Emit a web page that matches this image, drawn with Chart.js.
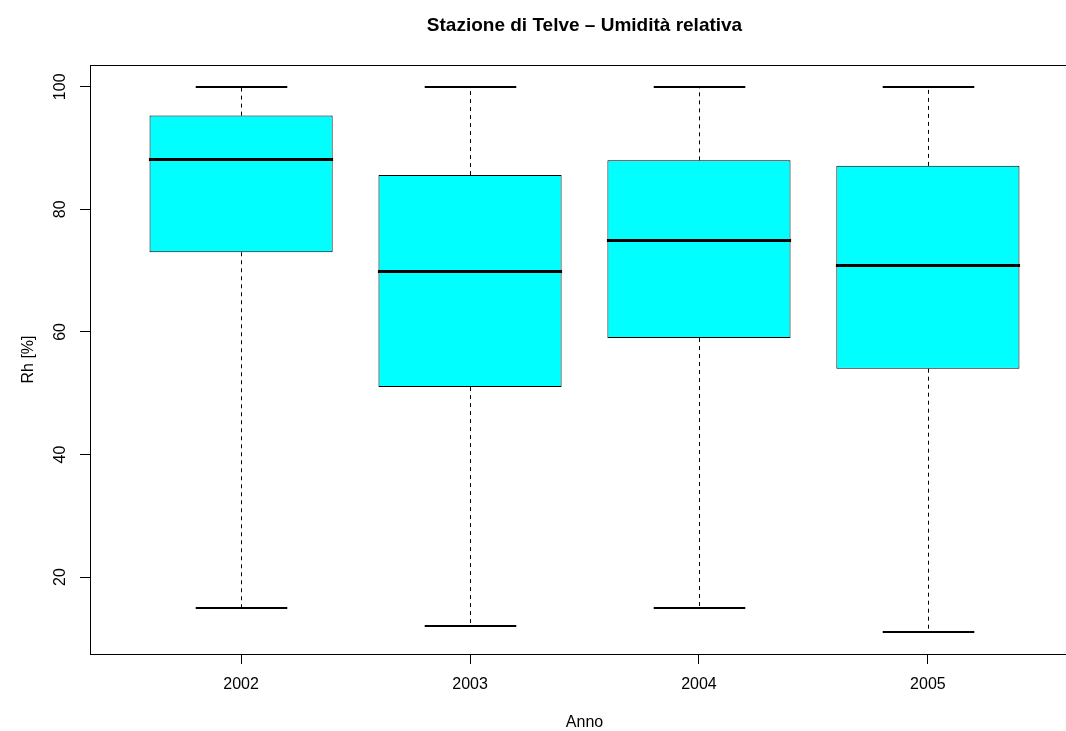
<!DOCTYPE html>
<html>
<head>
<meta charset="utf-8">
<script src="https://cdn.jsdelivr.net/npm/chart.js@4"></script>
<style>
  html, body { margin: 0; padding: 0; background: #fff; overflow: hidden; }
  #wrap { width: 1100px; height: 731px; }
</style>
</head>
<body>
<div id="wrap"><canvas id="boxChart" width="1100" height="731"></canvas></div>
<script>
// boxplot summary per year
const years = ['2002', '2003', '2004', '2005'];
const lower = [15, 12, 15, 11];
const q1 = [73, 51, 59, 54];
const median = [88.2, 70, 75, 71];
const q3 = [95.3, 85.6, 88, 87.1];
const upper = [100, 100, 100, 100];
const yTicks = [20, 40, 60, 80, 100];

// whiskers, staples, medians and the plot frame
const boxParts = {
    id: 'boxParts',
    afterDatasetsDraw(chart) {
        const { ctx, chartArea: a, scales: { x, y } } = chart;
        const bars = chart.getDatasetMeta(0).data;
        ctx.save();
        ctx.strokeStyle = '#000';
        years.forEach((yr, i) => {
            const cx = Math.round(x.getPixelForValue(i + 1)) + 0.5;
            const half = bars[i].width / 2;

            ctx.lineWidth = 1;
            ctx.setLineDash([4, 4]);
            ctx.beginPath();
            ctx.moveTo(cx, y.getPixelForValue(q3[i]));
            ctx.lineTo(cx, y.getPixelForValue(upper[i]));
            ctx.moveTo(cx, y.getPixelForValue(q1[i]));
            ctx.lineTo(cx, y.getPixelForValue(lower[i]));
            ctx.stroke();
            ctx.setLineDash([]);

            ctx.lineWidth = 2;
            ctx.beginPath();
            [upper[i], lower[i]].forEach(v => {
                const py = Math.round(y.getPixelForValue(v));
                ctx.moveTo(cx - half / 2, py);
                ctx.lineTo(cx + half / 2, py);
            });
            ctx.stroke();

            ctx.lineWidth = 3;
            ctx.beginPath();
            const my = Math.round(y.getPixelForValue(median[i])) + 0.5;
            ctx.moveTo(cx - half - 1, my);
            ctx.lineTo(cx + half, my);
            ctx.stroke();
        });
        ctx.lineWidth = 1;
        ctx.strokeRect(Math.round(a.left) + 0.5, Math.round(a.top) + 0.5,
            Math.round(a.width), Math.round(a.height));
        ctx.restore();
    }
};

Chart.defaults.font.family = '"Liberation Sans", Arial, Helvetica, sans-serif';
Chart.defaults.color = '#000';

const ctx = document.getElementById('boxChart').getContext('2d');
new Chart(ctx, {
    type: 'bar',
    data: {
        datasets: [{
            data: years.map((yr, i) => ({ x: i + 1, y: [q1[i], q3[i]] })),
            backgroundColor: '#00ffff',
            borderColor: '#000',
            borderWidth: 1,
            borderSkipped: false,
            barPercentage: 0.8,
            categoryPercentage: 1
        }]
    },
    options: {
        responsive: false,
        animation: false,
        layout: { padding: { left: 0, right: 21, top: 0, bottom: 0 } },
        plugins: {
            legend: { display: false },
            tooltip: { enabled: false },
            title: {
                display: true,
                text: 'Stazione di Telve \u2013 Umidità relativa',
                fullSize: false,
                color: '#000',
                font: { size: 19, weight: 'bold', lineHeight: 1.2 },
                padding: { top: 14, bottom: 28.2 }
            }
        },
        scales: {
            x: {
                type: 'linear',
                min: 0.34,
                max: 4.66,
                bounds: 'data',
                offset: false,
                afterBuildTicks: s => { s.ticks = years.map((yr, i) => ({ value: i + 1 })); },
                afterFit: s => { s.height = 77; },
                ticks: {
                    callback: v => years[v - 1],
                    font: { size: 16 },
                    padding: 11,
                    maxRotation: 0,
                    autoSkip: false
                },
                grid: { offset: false, drawOnChartArea: false, tickLength: 10, color: '#000' },
                border: { display: false },
                title: {
                    display: true,
                    text: 'Anno',
                    font: { size: 16, lineHeight: 1 },
                    padding: { top: 0, bottom: 0 }
                }
            },
            y: {
                min: 7.44,
                max: 103.56,
                bounds: 'data',
                afterBuildTicks: s => { s.ticks = yTicks.map(v => ({ value: v })); },
                afterFit: s => { s.width = 90; },
                ticks: {
                    minRotation: 90,
                    maxRotation: 90,
                    crossAlign: 'center',
                    padding: 6,
                    font: { size: 16 }
                },
                grid: { drawOnChartArea: false, tickLength: 10, color: '#000' },
                border: { display: false },
                title: {
                    display: true,
                    text: 'Rh [%]',
                    font: { size: 16, lineHeight: 1.2 },
                    padding: { top: 19, bottom: 0 }
                }
            }
        }
    },
    plugins: [boxParts]
});
</script>
</body>
</html>
